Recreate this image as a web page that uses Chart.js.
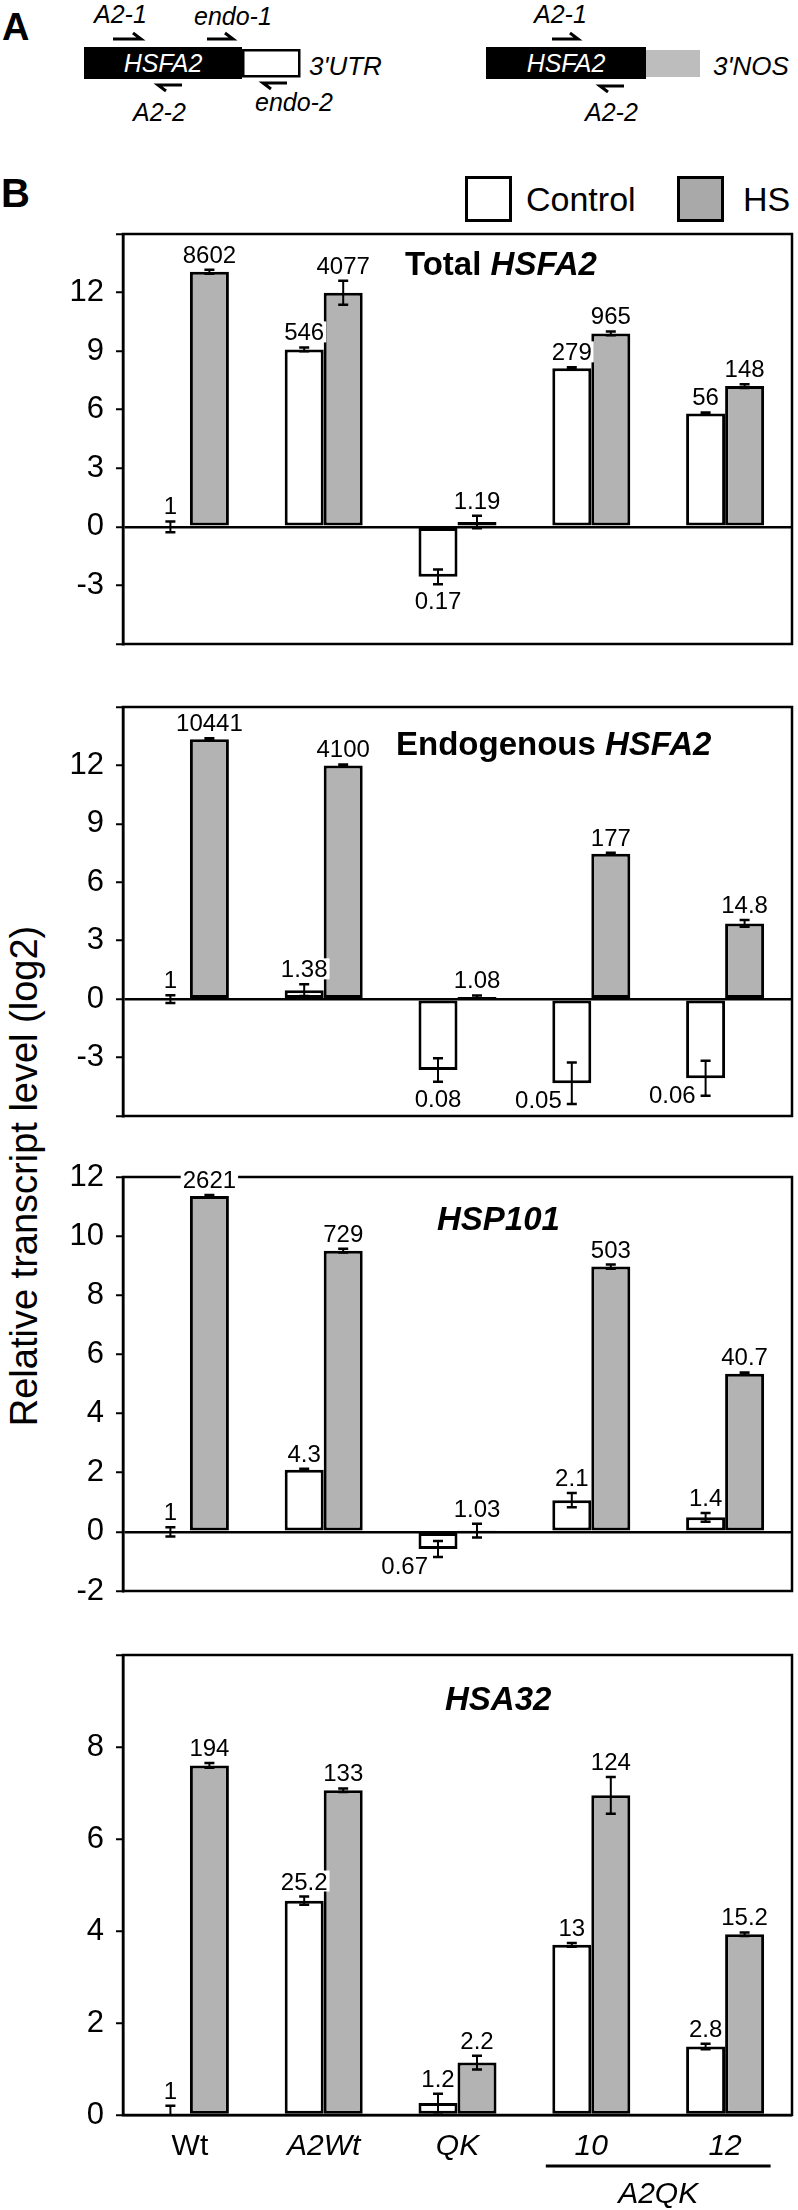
<!DOCTYPE html>
<html>
<head>
<meta charset="utf-8">
<script src="https://cdn.jsdelivr.net/npm/chart.js@4.4.0/dist/chart.umd.min.js"></script>
<style>
  body { margin: 0; background: #fff; }
  #fig { position: relative; width: 798px; height: 2210px; overflow: hidden; }
  #fig svg, #fig canvas { position: absolute; left: 0; top: 0; }
  svg text { font-family: 'Liberation Sans', Arial, sans-serif; }
</style>
</head>
<body>
<div id="fig">
  <svg width="798" height="2210">
    <!-- panel A: constructs -->
    <text x="2" y="40" font-size="38" font-weight="bold">A</text>
    <g font-size="25" font-style="italic">
      <text x="94" y="23">A2-1</text>
      <text x="194" y="25">endo-1</text>
      <text x="133" y="121">A2-2</text>
      <text x="255" y="111">endo-2</text>
      <text x="534" y="23">A2-1</text>
      <text x="585" y="121">A2-2</text>
    </g>
    <g fill="none" stroke="#000" stroke-width="3">
      <path d="M113 39 H141 L133 33"/>
      <path d="M207 39 H233 L225 33"/>
      <path d="M166 91 L158 85 H182"/>
      <path d="M271 89 L263 83 H287"/>
      <path d="M552 39 H578 L570 33"/>
      <path d="M608 92 L600 86 H624"/>
    </g>
    <rect x="84" y="47" width="158" height="32" fill="#000"/>
    <rect x="243.25" y="50.25" width="56" height="26" fill="#fff" stroke="#000" stroke-width="2.5"/>
    <rect x="486" y="47" width="160" height="32" fill="#000"/>
    <rect x="646" y="50" width="54" height="27" fill="#bdbdbd"/>
    <g font-size="25" font-style="italic" fill="#fff" text-anchor="middle">
      <text x="163" y="72">HSFA2</text>
      <text x="566" y="72">HSFA2</text>
    </g>
    <text x="309" y="75" font-size="26" font-style="italic">3'UTR</text>
    <text x="713" y="75" font-size="26" font-style="italic">3'NOS</text>

    <!-- panel B header and legend -->
    <text x="1" y="207" font-size="40" font-weight="bold">B</text>
    <rect x="466.5" y="177.5" width="44" height="43" fill="#fff" stroke="#000" stroke-width="3"/>
    <text x="526" y="211" font-size="34">Control</text>
    <rect x="678.5" y="177.5" width="44" height="43" fill="#a9a9a9" stroke="#000" stroke-width="3"/>
    <text x="743" y="211" font-size="34">HS</text>

    <text transform="translate(37,1176) rotate(-90)" text-anchor="middle" font-size="38">Relative transcript level (log2)</text>
  </svg>
  <canvas id="total" width="798" height="2210"></canvas>
  <canvas id="endo" width="798" height="2210"></canvas>
  <canvas id="hsp101" width="798" height="2210"></canvas>
  <canvas id="hsa32" width="798" height="2210"></canvas>
</div>
<script>
var FONT = "'Liberation Sans', Arial, sans-serif";

var categories = ['Wt', 'A2Wt', 'QK', '10', '12'];

// Total HSFA2 (log2 values, label = fold change)
var totalCtrl = [0, 9.09, -2.56, 8.12, 5.81];
var totalHs = [13.07, 11.99, 0.25, 9.91, 7.21];
var totalCtrlErr = [0.28, 0.1, 0.38, 0.05, 0.05];
var totalHsErr = [0.1, 0.62, 0.32, 0.1, 0.1];
var totalCtrlLbl = ['1', '546', '0.17', '279', '56'];
var totalHsLbl = ['8602', '4077', '1.19', '965', '148'];

// Endogenous HSFA2
var endoCtrl = [0, 0.46, -3.64, -4.32, -4.06];
var endoHs = [13.35, 12.0, 0.11, 7.47, 3.89];
var endoCtrlErr = [0.2, 0.3, 0.6, 1.07, 0.9];
var endoHsErr = [0.05, 0.05, 0.08, 0.05, 0.17];
var endoCtrlLbl = ['1', '1.38', '0.08', '0.05', '0.06'];
var endoHsLbl = ['10441', '4100', '1.08', '177', '14.8'];

// HSP101
var hspCtrl = [0, 2.1, -0.58, 1.07, 0.49];
var hspHs = [11.36, 9.51, 0.04, 8.97, 5.35];
var hspCtrlErr = [0.16, 0.03, 0.27, 0.24, 0.15];
var hspHsErr = [0.03, 0.06, 0.23, 0.07, 0.04];
var hspCtrlLbl = ['1', '4.3', '0.67', '2.1', '1.4'];
var hspHsLbl = ['2621', '729', '1.03', '503', '40.7'];

// HSA32
var hsaCtrl = [0, 4.66, 0.26, 3.7, 1.49];
var hsaHs = [7.6, 7.06, 1.14, 6.95, 3.93];
var hsaCtrlErr = [0.2, 0.09, 0.2, 0.04, 0.06];
var hsaHsErr = [0.05, 0.04, 0.15, 0.4, 0.04];
var hsaCtrlLbl = ['1', '25.2', '1.2', '13', '2.8'];
var hsaHsLbl = ['194', '133', '2.2', '124', '15.2'];

// frame, error bars, value labels, panel title, A2QK bracket
var panelDeco = {
    id: 'panelDeco',
    afterDatasetsDraw: function(chart, args, opts) {
        var ctx = chart.ctx, a = chart.chartArea, y = chart.scales.y;
        ctx.save();
        ctx.strokeStyle = '#000';
        ctx.lineWidth = 2.5;
        ctx.strokeRect(a.left, a.top, a.right - a.left, a.bottom - a.top);

        // error bars, clipped to the plot area
        ctx.save();
        ctx.beginPath();
        ctx.rect(a.left, a.top, a.right - a.left, a.bottom - a.top);
        ctx.clip();
        chart.data.datasets.forEach(function(ds, d) {
            chart.getDatasetMeta(d).data.forEach(function(bar, i) {
                var v = ds.data[i], e = opts.errors[d][i];
                var yHi = y.getPixelForValue(v + e), yLo = y.getPixelForValue(v - e);
                ctx.lineWidth = 2;
                ctx.beginPath();
                ctx.moveTo(bar.x, yHi); ctx.lineTo(bar.x, yLo);
                ctx.stroke();
                ctx.lineWidth = 2.5;
                ctx.beginPath();
                ctx.moveTo(bar.x - 5, yHi); ctx.lineTo(bar.x + 5, yHi);
                ctx.moveTo(bar.x - 5, yLo); ctx.lineTo(bar.x + 5, yLo);
                ctx.stroke();
            });
        });
        ctx.restore();

        // value labels
        ctx.font = '24px ' + FONT;
        ctx.textBaseline = 'alphabetic';
        chart.data.datasets.forEach(function(ds, d) {
            chart.getDatasetMeta(d).data.forEach(function(bar, i) {
                var v = ds.data[i], e = opts.errors[d][i], txt = opts.labels[d][i];
                var yHi = y.getPixelForValue(v + e), yLo = y.getPixelForValue(v - e);
                var w = ctx.measureText(txt).width, x0, base;
                var side = opts.side && opts.side[d] && opts.side[d].indexOf(i) >= 0;
                if (side) {
                    x0 = bar.x - 10 - w;
                    base = y.getPixelForValue(v) + 25;
                } else if (v < 0) {
                    x0 = bar.x - w / 2;
                    base = yLo + 25;
                } else {
                    x0 = bar.x - w / 2;
                    base = Math.min(yHi, y.getPixelForValue(v)) - 7;
                }
                ctx.fillStyle = '#fff';
                ctx.fillRect(x0 - 2, base - 19, w + 4, 21);
                ctx.fillStyle = '#000';
                ctx.fillText(txt, x0, base);
            });
        });

        // title: regular part + italic gene name, both bold
        var tx = opts.title.x;
        opts.title.parts.forEach(function(p) {
            ctx.font = (p.italic ? 'italic ' : '') + 'bold 33px ' + FONT;
            ctx.fillText(p.text, tx, opts.title.y);
            tx += ctx.measureText(p.text).width;
        });

        if (opts.bracket) {
            var xs = chart.scales.x;
            var x1 = xs.getPixelForValue(opts.bracket.from), x2 = xs.getPixelForValue(opts.bracket.to);
            var half = (x2 - x1) * 0.34;
            ctx.lineWidth = 3;
            ctx.beginPath();
            ctx.moveTo(x1 - half, a.bottom + 51);
            ctx.lineTo(x2 + half, a.bottom + 51);
            ctx.stroke();
            ctx.font = 'italic 30px ' + FONT;
            ctx.textAlign = 'center';
            ctx.fillText(opts.bracket.text, (x1 + x2) / 2, a.bottom + 88);
        }
        ctx.restore();
    }
};

function drawPanel(id, o) {
    var showX = !!o.bracket;
    return new Chart(document.getElementById(id), {
        type: 'bar',
        data: {
            labels: categories,
            datasets: [{
                label: 'Control',
                data: o.ctrl,
                backgroundColor: '#ffffff',
                borderColor: '#000',
                borderWidth: 3,
                borderSkipped: false,
                categoryPercentage: 0.583,
                barPercentage: 1
            }, {
                label: 'HS',
                data: o.hs,
                backgroundColor: '#b3b3b3',
                borderColor: '#000',
                borderWidth: 3,
                borderSkipped: false,
                categoryPercentage: 0.583,
                barPercentage: 1
            }]
        },
        options: {
            responsive: false,
            animation: false,
            devicePixelRatio: 1,
            layout: { padding: { left: 0, right: 6, top: o.top, bottom: o.bottom } },
            plugins: {
                legend: { display: false },
                tooltip: { enabled: false },
                panelDeco: {
                    errors: [o.ctrlErr, o.hsErr],
                    labels: [o.ctrlLbl, o.hsLbl],
                    side: o.side,
                    title: o.title,
                    bracket: o.bracket
                }
            },
            scales: {
                x: {
                    display: showX,
                    afterFit: function(s) { s.height = 50; },
                    grid: { display: false, drawTicks: false },
                    border: { display: false },
                    ticks: {
                        color: '#000',
                        padding: 14,
                        font: function(c) {
                            return { size: 30, family: FONT, style: c.index === 0 ? 'normal' : 'italic' };
                        }
                    }
                },
                y: {
                    min: o.min,
                    max: o.max,
                    afterFit: function(s) { s.width = 123; },
                    border: { display: true, color: '#000', width: 2.5 },
                    grid: {
                        drawOnChartArea: true,
                        color: function(c) { return c.tick && c.tick.value === 0 ? '#000' : 'rgba(0,0,0,0)'; },
                        lineWidth: 2.5,
                        tickColor: '#000',
                        tickWidth: 2,
                        tickLength: 7
                    },
                    ticks: {
                        stepSize: o.step,
                        color: '#000',
                        padding: 12,
                        font: { size: 31, family: FONT },
                        callback: function(v) { return o.hide.indexOf(v) >= 0 ? '' : String(v); }
                    }
                }
            }
        },
        plugins: [panelDeco]
    });
}

drawPanel('total', {
    ctrl: totalCtrl, hs: totalHs, ctrlErr: totalCtrlErr, hsErr: totalHsErr,
    ctrlLbl: totalCtrlLbl, hsLbl: totalHsLbl,
    min: -6, max: 15, step: 3, hide: [15, -6],
    top: 234, bottom: 2210 - 694,
    title: { x: 405, y: 275, parts: [{ text: 'Total ', italic: false }, { text: 'HSFA2', italic: true }] }
});

drawPanel('endo', {
    ctrl: endoCtrl, hs: endoHs, ctrlErr: endoCtrlErr, hsErr: endoHsErr,
    ctrlLbl: endoCtrlLbl, hsLbl: endoHsLbl,
    min: -6, max: 15, step: 3, hide: [15, -6],
    top: 707, bottom: 2210 - 1166,
    side: [[3, 4], []],
    title: { x: 396, y: 755, parts: [{ text: 'Endogenous ', italic: false }, { text: 'HSFA2', italic: true }] }
});

drawPanel('hsp101', {
    ctrl: hspCtrl, hs: hspHs, ctrlErr: hspCtrlErr, hsErr: hspHsErr,
    ctrlLbl: hspCtrlLbl, hsLbl: hspHsLbl,
    min: -2, max: 12, step: 2, hide: [],
    top: 1177, bottom: 2210 - 1641,
    side: [[2], []],
    title: { x: 437, y: 1230, parts: [{ text: 'HSP101', italic: true }] }
});

drawPanel('hsa32', {
    ctrl: hsaCtrl, hs: hsaHs, ctrlErr: hsaCtrlErr, hsErr: hsaHsErr,
    ctrlLbl: hsaCtrlLbl, hsLbl: hsaHsLbl,
    min: 0, max: 10, step: 2, hide: [10],
    top: 1655, bottom: 45,
    title: { x: 445, y: 1710, parts: [{ text: 'HSA32', italic: true }] },
    bracket: { from: 3, to: 4, text: 'A2QK' }
});
</script>
</body>
</html>
